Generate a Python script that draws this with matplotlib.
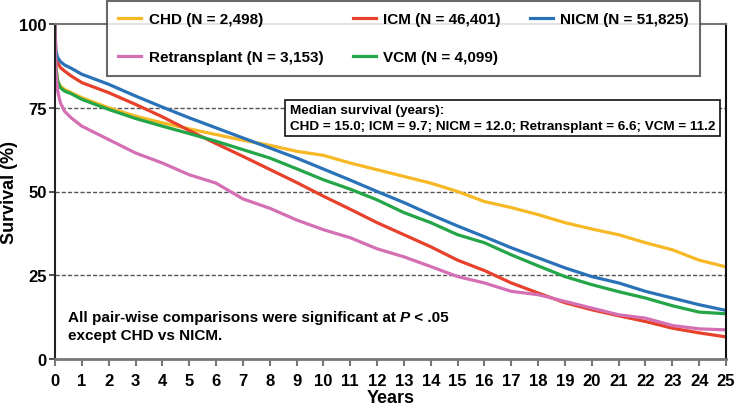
import matplotlib
matplotlib.use("Agg")
import matplotlib.pyplot as plt

plt.rcParams['font.family'] = ['Liberation Sans', 'DejaVu Sans']
plt.rcParams['font.weight'] = 'bold'

# follow-up times (years)
years = [0, 0.03, 0.1, 0.2, 0.35, 0.6, 1, 2, 3, 4, 5, 6, 7, 8, 9, 10, 11, 12,
         13, 14, 15, 16, 17, 18, 19, 20, 21, 22, 23, 24, 25]

# survival (%)
chd = [100, 88, 83, 81.5, 80.5, 79.5, 78, 75, 72.5, 70.5, 68.7, 67, 65.3, 63.8,
       62, 60.8, 58.5, 56.5, 54.5, 52.5, 50, 47, 45.2, 43.1, 40.7, 38.8, 37.1,
       34.7, 32.6, 29.5, 27.5]
icm = [100, 91, 88.5, 87, 86, 84.5, 82.5, 79.5, 76, 72.3, 68.2, 64.3, 60.5,
       56.6, 52.7, 48.6, 44.7, 40.7, 37.1, 33.5, 29.5, 26.4, 22.7, 19.7, 16.8,
       14.7, 12.9, 11.2, 9.2, 7.8, 6.6]
nicm = [100, 92, 90, 88.8, 87.8, 86.8, 85, 82, 78.5, 75.2, 72, 69, 66, 63,
        60, 56.7, 53.4, 50, 46.7, 43.1, 39.7, 36.5, 33.2, 30.2, 27.2, 24.6,
        22.7, 20.2, 18.2, 16.2, 14.5]
retx = [100, 86, 80, 76.5, 74, 72, 69.5, 65.5, 61.5, 58.5, 55, 52.5, 47.8, 45,
        41.5, 38.6, 36.2, 32.9, 30.5, 27.6, 24.6, 22.7, 20.2, 19.2, 17.2, 15.2,
        13.2, 12.2, 10, 9, 8.7]
vcm = [100, 87, 83, 81, 80, 79.2, 77.5, 74.5, 71.8, 69.5, 67.3, 65, 62.5, 60,
       56.8, 53.5, 50.7, 47.5, 43.7, 40.7, 37.1, 34.7, 31.1, 27.8, 24.6, 22.2,
       20.1, 18.2, 15.9, 14, 13.5]

labels = ['CHD (N = 2,498)', 'Retransplant (N = 3,153)', 'ICM (N = 46,401)',
          'VCM (N = 4,099)', 'NICM (N = 51,825)']
colors = ['#F6B824', '#D46FB4', '#E8412B', '#23A548', '#2A72B8']
series = [chd, retx, icm, vcm, nicm]
medians_text = ('Median survival (years):\n'
                'CHD = 15.0; ICM = 9.7; NICM = 12.0; Retransplant = 6.6; VCM = 11.2')

fig = plt.figure(figsize=(7.35, 4.06), dpi=100)
ax = fig.add_axes([55 / 735, 1 - 360 / 406, 671 / 735, 335 / 406])

# draw order: keep green/pink on top like the original
order = [0, 2, 4, 3, 1]
handles = [None] * 5
for i in order:
    h, = ax.plot(years, series[i], color=colors[i], lw=2.3, label=labels[i],
                 solid_joinstyle='round')
    handles[i] = h

for yv in [25, 50, 75]:
    ax.axhline(yv, color='#555555', lw=1, ls=(0, (3, 1.5)), zorder=0)

ax.set_xlim(0, 25)
ax.set_ylim(0, 100)
ax.set_xticks(range(0, 26))
ax.set_yticks([0, 25, 50, 75, 100])
ax.tick_params(axis='x', labelsize=12, direction='out', length=5, width=1.5,
               color='#777777', pad=5)
ax.tick_params(axis='y', labelsize=12, direction='out', length=4, width=1.2,
               color='#333333', pad=2)
for lab in ax.get_xticklabels() + ax.get_yticklabels():
    lab.set_fontweight('bold')

ax.spines['left'].set_color('#222222')
ax.spines['left'].set_linewidth(1.5)
ax.spines['right'].set_color('#111111')
ax.spines['right'].set_linewidth(1.5)
ax.spines['top'].set_color('#777777')
ax.spines['top'].set_linewidth(1.5)
ax.spines['bottom'].set_color('#777777')
ax.spines['bottom'].set_linewidth(2)

ax.set_xlabel('Years', fontsize=13, fontweight='bold', labelpad=1)
ax.set_ylabel('Survival (%)', fontsize=13, fontweight='bold')
ax.yaxis.set_label_coords((18 - 55) / 671, 0.5)

leg = fig.legend(handles, labels, loc='upper left', ncol=3,
                 bbox_to_anchor=(107 / 735, 1 - 2 / 406), borderaxespad=0,
                 prop={'size': 11, 'weight': 'bold'}, frameon=True,
                 fancybox=False, handlelength=1.5, handletextpad=0.5,
                 columnspacing=1.9, labelspacing=1.55, borderpad=0.75)
leg.get_frame().set_edgecolor('#444444')
leg.get_frame().set_linewidth(1.5)
leg.set_zorder(10)

fig.text(290 / 735, 1 - 119 / 406, medians_text, fontsize=9.7,
         fontweight='bold', va='center', ha='left', linespacing=1.35,
         bbox=dict(boxstyle='square,pad=0.35', fc='white', ec='#111111', lw=1.2))

t1 = fig.text(68 / 735, 1 - 322 / 406,
              'All pair-wise comparisons were significant at ',
              fontsize=11, fontweight='bold', va='baseline', ha='left')
t2 = ax.annotate('P', xy=(1, 0), xycoords=t1, fontsize=11, fontweight='bold',
                 style='italic', va='bottom', ha='left')
t3 = ax.annotate(' < .05', xy=(1, 0), xycoords=t2, fontsize=11,
                 fontweight='bold', va='bottom', ha='left')
fig.text(68 / 735, 1 - 340 / 406, 'except CHD vs NICM.', fontsize=11,
         fontweight='bold', va='baseline', ha='left')

fig.savefig('out.png', dpi=100)
